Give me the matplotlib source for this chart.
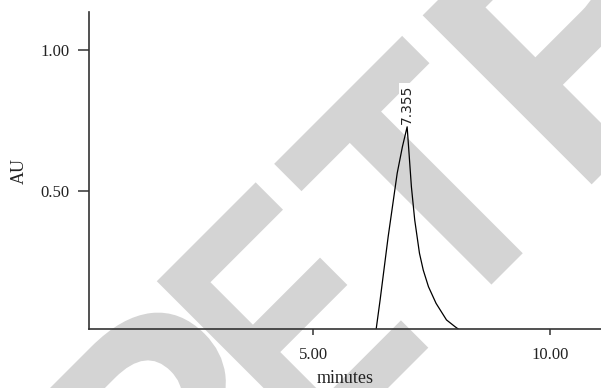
import numpy as np
import matplotlib
matplotlib.use("Agg")
import matplotlib.pyplot as plt
from matplotlib.transforms import IdentityTransform, Affine2D
from matplotlib.textpath import TextPath
from matplotlib.font_manager import FontProperties
from matplotlib.patches import PathPatch

# peak trace (minutes, AU)
time_min = [6.32, 6.41, 6.49, 6.58, 6.68, 6.77, 6.88, 6.98,
            7.02, 7.07, 7.14, 7.24, 7.32, 7.43, 7.59, 7.81, 7.99, 8.13]
absorb = [0.0, 0.112, 0.218, 0.337, 0.455, 0.562, 0.656, 0.727,
          0.633, 0.514, 0.396, 0.278, 0.218, 0.159, 0.100, 0.041, 0.017, 0.0]
peak_label = "7.355"
xticks = [5.0, 10.0]
yticks = [0.5, 1.0]

# retraction watermark, letters along a 45 deg baseline
# (ink left edge along the baseline and ink width, in pixels)
wm_letters = ["R", "E", "T", "R"]
wm_left = [-300, -88, 78, 288]
wm_width = [None, 145, 181, None]
wm_cap = 239.0

serif = "Liberation Serif"

fig = plt.figure(figsize=(6.01, 3.88), dpi=100)
ax = fig.add_axes([0.1476, 0.1508, 0.8524, 0.8183])
ax.set_facecolor("none")

fp = FontProperties(family="Liberation Sans", weight="bold")
for ch, left, w in zip(wm_letters, wm_left, wm_width):
    tp = TextPath((0, 0), ch, size=100, prop=fp)
    ext = tp.get_extents()
    sy = wm_cap / ext.y1
    sx = sy if w is None else w / ext.width
    tr = (Affine2D().translate(-ext.x0, 0).scale(sx, sy)
          .translate(left, 0).rotate_deg(45).translate(388, 0))
    patch = PathPatch(tr.transform_path(tp), transform=IdentityTransform(),
                      fc="#d4d4d4", ec="none", lw=0, zorder=-5)
    fig.add_artist(patch)

ax.plot(time_min, absorb, color="black", lw=0.9)
i = int(np.argmax(absorb))
ax.annotate(peak_label, (time_min[i], absorb[i]), xytext=(0, 2),
            textcoords="offset points", rotation=90, ha="center", va="bottom",
            fontsize=10, family="DejaVu Sans", color="#222222",
            bbox=dict(boxstyle="square,pad=0.1", fc="white", ec="none"))

ax.set_xlim(0.262, 11.07)
ax.set_ylim(0.007, 1.135)
ax.set_xticks(xticks)
ax.set_xticklabels(["%.2f" % v for v in xticks])
ax.set_yticks(yticks)
ax.set_yticklabels(["%.2f" % v for v in yticks])

for s in ["top", "right"]:
    ax.spines[s].set_visible(False)
for s in ["left", "bottom"]:
    ax.spines[s].set_color("#333333")
    ax.spines[s].set_linewidth(1.2)

ax.tick_params(axis="y", length=7.7, width=1.1, color="#333333", pad=6)
ax.tick_params(axis="x", length=4.5, width=1.1, color="#333333", pad=8)
for lab in ax.get_xticklabels() + ax.get_yticklabels():
    lab.set_family(serif)
    lab.set_fontsize(12)
    lab.set_color("#222222")

ax.set_xlabel("minutes", family=serif, fontsize=13, color="#222222", labelpad=5)
ax.set_ylabel("AU", family=serif, fontsize=13, color="#222222")
ax.yaxis.set_label_coords(-0.118, 0.5)

fig.savefig("out.png", dpi=100)
